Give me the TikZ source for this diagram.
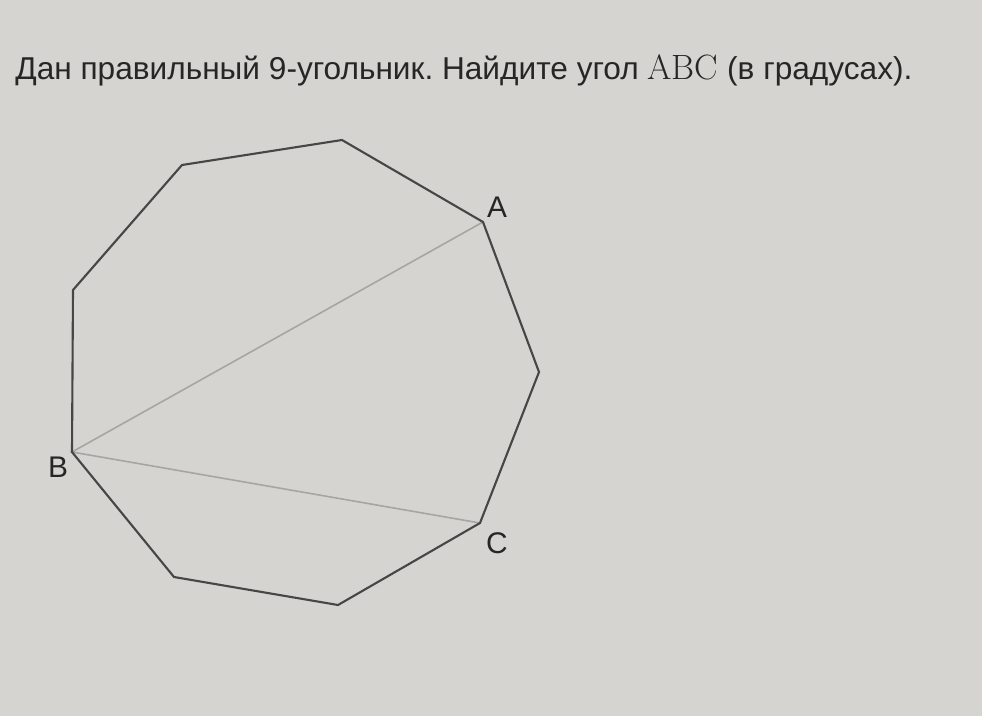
\documentclass[tikz,border=0pt]{standalone}
\usepackage{fontspec}
\setmainfont{Liberation Sans}
\newfontfamily\lmfont{Latin Modern Roman}
\frenchspacing
\definecolor{paper}{RGB}{214,212,208}
\definecolor{edge}{RGB}{70,70,70}
\definecolor{chord}{RGB}{165,165,163}
\begin{document}
\begin{tikzpicture}[x=0.02cm,y=-0.02cm,
  side/.style={edge, line width=1.2pt, line join=miter},
  diag/.style={chord, line width=0.9pt},
  vlabel/.style={font=\fontsize{17}{20}\selectfont, text=black!85, inner sep=0pt}]
\fill[paper] (0,0) rectangle (982,716);
\useasboundingbox (0,0) rectangle (982,716);
\node[anchor=west, text=black!85, inner sep=0pt, font=\fontsize{18}{22}\selectfont] (title) at (15,70)
  {Дан правильный 9-угольник. Найдите угол {\lmfont\fontsize{20}{22}\selectfont ABC} (в градусах).};
\coordinate (p1) at (182,165);
\coordinate (p2) at (342,140);
\coordinate (A) at (483,222);
\coordinate (p4) at (539,372);
\coordinate (C) at (480,523);
\coordinate (p6) at (338,605);
\coordinate (p7) at (174,577);
\coordinate (B) at (72,452);
\coordinate (p9) at (73,290);
\draw[diag] (A) -- (B) -- (C);
\draw[side] (p1) -- (p2) -- (A) -- (p4) -- (C) -- (p6) -- (p7) -- (B) -- (p9) -- cycle;
\node[vlabel] (la) at (497,207) {A};
\node[vlabel] (lb) at (58,467) {B};
\node[vlabel] (lc) at (497,543) {C};
\end{tikzpicture}
\end{document}
